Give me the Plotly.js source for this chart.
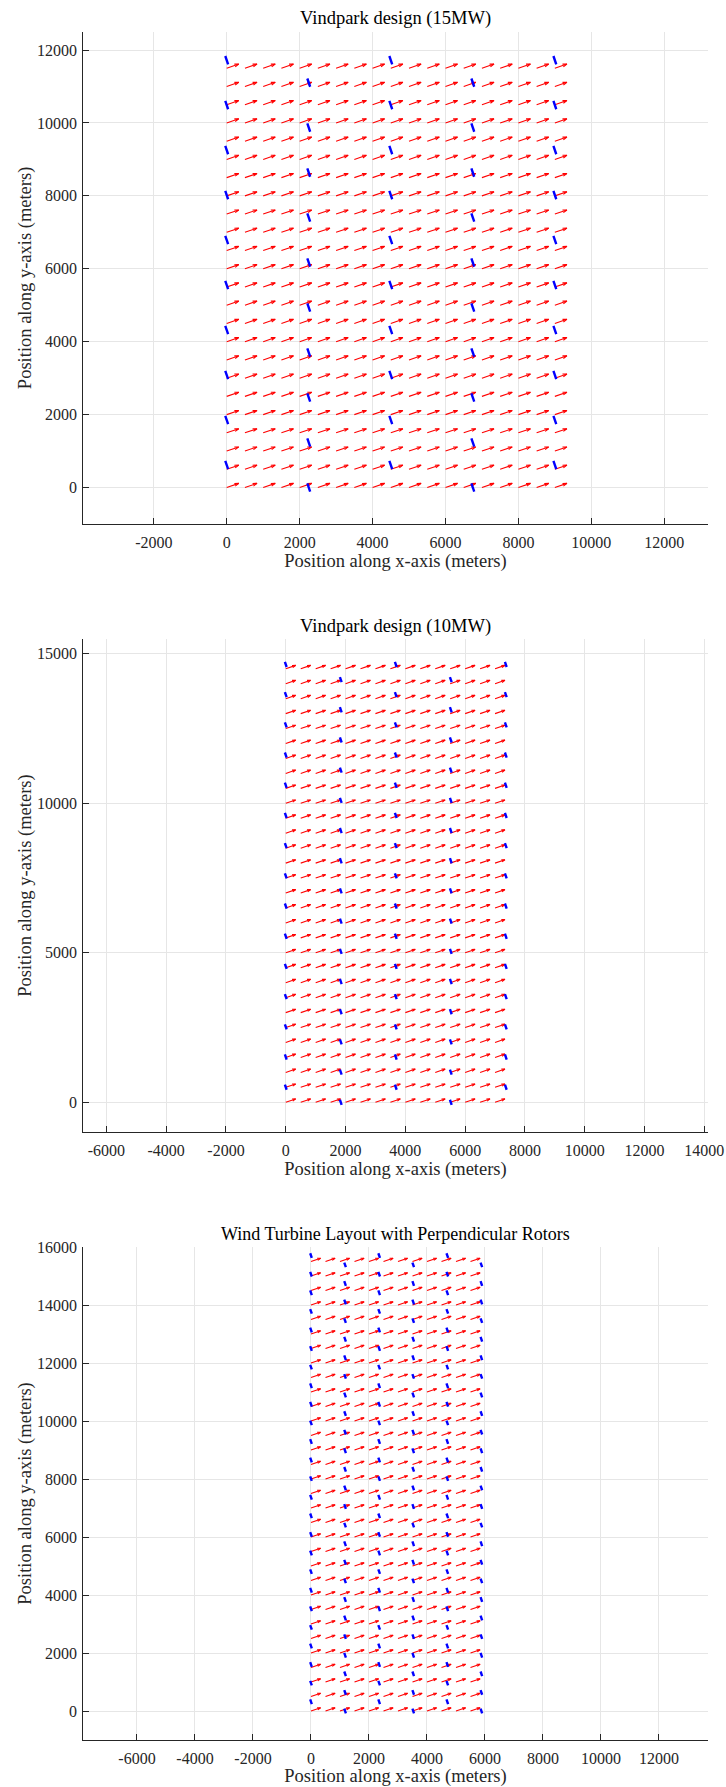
<!DOCTYPE html>
<html><head><meta charset="utf-8">
<script src="https://cdn.plot.ly/plotly-3.0.1.min.js"></script>
<style>html,body{margin:0;padding:0;background:#fff}</style>
</head><body><div id="chart" style="width:726px;height:1787px"></div>
<script>
// ---------- Plot 1: Vindpark design (15MW) ----------
const windX1 = [0,500,1000,1500,2000,2500,3000,3500,4000,4500,5000,5500,6000,6500,7000,7500,8000,8500,9000];
const windY1 = [0,500,1000,1500,2000,2500,3000,3500,4000,4500,5000,5500,6000,6500,7000,7500,8000,8500,9000,9500,10000,10500,11000,11500];
const turbColsA1 = [0,4500,9000];
const turbRowsA1 = [617,1851,3085,4319,5553,6787,8021,9255,10489,11723];
const turbColsB1 = [2250,6750];
const turbRowsB1 = [0,1234,2468,3702,4936,6170,7404,8638,9872,11106];
const xTicks1 = [-2000,0,2000,4000,6000,8000,10000,12000];
const xTickText1 = ['-2000','0','2000','4000','6000','8000','10000','12000'];
const yTicks1 = [0,2000,4000,6000,8000,10000,12000];
const yTickText1 = ['0','2000','4000','6000','8000','10000','12000'];

// ---------- Plot 2: Vindpark design (10MW) ----------
const windX2 = [0,500,1000,1500,2000,2500,3000,3500,4000,4500,5000,5500,6000,6500,7000];
const windY2 = [0,500,1000,1500,2000,2500,3000,3500,4000,4500,5000,5500,6000,6500,7000,7500,8000,8500,9000,9500,10000,10500,11000,11500,12000,12500,13000,13500,14000,14500];
const turbColsA2 = [0,3680,7360];
const turbRowsA2 = [505,1515,2525,3535,4545,5555,6565,7575,8585,9595,10605,11615,12625,13635,14645];
const turbColsB2 = [1840,5520];
const turbRowsB2 = [0,1010,2020,3030,4040,5050,6060,7070,8080,9090,10100,11110,12120,13130,14140];
const xTicks2 = [-6000,-4000,-2000,0,2000,4000,6000,8000,10000,12000,14000];
const xTickText2 = ['-6000','-4000','-2000','0','2000','4000','6000','8000','10000','12000','14000'];
const yTicks2 = [0,5000,10000,15000];
const yTickText2 = ['0','5000','10000','15000'];

// ---------- Plot 3: Wind Turbine Layout with Perpendicular Rotors ----------
const windX3 = [0,500,1000,1500,2000,2500,3000,3500,4000,4500,5000,5500];
const windY3 = [0,500,1000,1500,2000,2500,3000,3500,4000,4500,5000,5500,6000,6500,7000,7500,8000,8500,9000,9500,10000,10500,11000,11500,12000,12500,13000,13500,14000,14500,15000,15500];
const turbColsA3 = [0,2350,4700];
const turbRowsA3 = [320,961,1602,2243,2884,3525,4166,4807,5448,6089,6730,7371,8012,8653,9294,9935,10576,11217,11858,12499,13140,13781,14422,15063,15704];
const turbColsB3 = [1175,3525,5875];
const turbRowsB3 = [0,641,1282,1923,2564,3205,3846,4487,5128,5769,6410,7051,7692,8333,8974,9615,10256,10897,11538,12179,12820,13461,14102,14743,15384];
const xTicks3 = [-6000,-4000,-2000,0,2000,4000,6000,8000,10000,12000];
const xTickText3 = ['-6000','-4000','-2000','0','2000','4000','6000','8000','10000','12000'];
const yTicks3 = [0,2000,4000,6000,8000,10000,12000,14000,16000];
const yTickText3 = ['0','2000','4000','6000','8000','10000','12000','14000','16000'];

const titles = ['Vindpark design (15MW)','Vindpark design (10MW)','Wind Turbine Layout with Perpendicular Rotors'];
const xLabel = 'Position along x-axis (meters)';
const yLabel = 'Position along y-axis (meters)';

// wind direction and glyph sizes (meters)
const windAngleDeg = 19;
const arrowLen = 350;
const rotorD = [240, 180, 170];

const th = windAngleDeg*Math.PI/180;
const U = arrowLen*Math.cos(th), V = arrowLen*Math.sin(th);
const alpha = 0.33, beta = 0.33;

function arrowTrace(xs, ys, xa, ya){
  const X=[],Y=[];
  for (const y of ys) for (const x of xs){
    X.push(x, x+U, null); Y.push(y, y+V, null);
    X.push(x+U-alpha*(U+beta*V), x+U, x+U-alpha*(U-beta*V), null);
    Y.push(y+V-alpha*(V-beta*U), y+V, y+V-alpha*(V+beta*U), null);
  }
  return {type:'scatter', mode:'lines', x:X, y:Y, xaxis:xa, yaxis:ya,
    line:{color:'#ff0000', width:1.1}, hoverinfo:'skip', showlegend:false};
}
function rotorTrace(cols, rows, D, xa, ya){
  const X=[],Y=[];
  const sx = D/2*Math.sin(th), sy = D/2*Math.cos(th);
  for (const x of cols) for (const y of rows){
    X.push(x-sx, x+sx, null); Y.push(y+sy, y-sy, null);
  }
  return {type:'scatter', mode:'lines', x:X, y:Y, xaxis:xa, yaxis:ya,
    line:{color:'#0000ff', width:2.4}, hoverinfo:'skip', showlegend:false};
}

const data = [
  arrowTrace(windX1, windY1, 'x', 'y'),
  rotorTrace(turbColsA1, turbRowsA1, rotorD[0], 'x', 'y'),
  rotorTrace(turbColsB1, turbRowsB1, rotorD[0], 'x', 'y'),
  arrowTrace(windX2, windY2, 'x2', 'y2'),
  rotorTrace(turbColsA2, turbRowsA2, rotorD[1], 'x2', 'y2'),
  rotorTrace(turbColsB2, turbRowsB2, rotorD[1], 'x2', 'y2'),
  arrowTrace(windX3, windY3, 'x3', 'y3'),
  rotorTrace(turbColsA3, turbRowsA3, rotorD[2], 'x3', 'y3'),
  rotorTrace(turbColsB3, turbRowsB3, rotorD[2], 'x3', 'y3')
];

const W=726, H=1787;
const FONT = '"Liberation Serif", "Times New Roman", serif';
const INK = '#262626';
const xd = [83.2/W, 707.8/W];
function yd(topPx, botPx){ return [1-botPx/H, 1-topPx/H]; }

function axisBase(tv, tt, range, domain, anchor, isX){
  return {
    domain, range, anchor, autorange:false, fixedrange:true,
    tickmode:'array', tickvals:tv, ticktext:tt,
    showline:true, linecolor:INK, linewidth:1, mirror:false,
    ticks:'inside', ticklen:6, tickwidth:1, tickcolor:INK,
    showgrid:true, gridcolor:'#e6e6e6', gridwidth:1, zeroline:false,
    tickfont:{family:FONT, size:16, color:INK},
    ticklabelstandoff: isX ? 4 : 2,
    title:{text: isX ? xLabel : yLabel, font:{family:FONT, size:18.5, color:INK}, standoff: isX ? 3 : 0}
  };
}

const layout = {
  width:W, height:H, margin:{l:0,r:0,t:0,b:0},
  paper_bgcolor:'#ffffff', plot_bgcolor:'#ffffff', showlegend:false,
  xaxis:  axisBase(xTicks1, xTickText1, [-3936,13195], xd, 'y', true),
  yaxis:  axisBase(yTicks1, yTickText1, [-1000,12500], yd(31.8,524), 'x', false),
  xaxis2: axisBase(xTicks2, xTickText2, [-6776,14117], xd, 'y2', true),
  yaxis2: axisBase(yTicks2, yTickText2, [-1000,15500], yd(638.9,1132.2), 'x2', false),
  xaxis3: axisBase(xTicks3, xTickText3, [-7855,13683], xd, 'y3', true),
  yaxis3: axisBase(yTicks3, yTickText3, [-1000,16000], yd(1247,1740), 'x3', false),
  annotations: [
    {text:titles[0], xref:'paper', yref:'paper', x:(xd[0]+xd[1])/2, y:1-18/H, xanchor:'center', yanchor:'middle', showarrow:false, font:{family:FONT, size:18.5, color:'#000'}},
    {text:titles[1], xref:'paper', yref:'paper', x:(xd[0]+xd[1])/2, y:1-626.5/H, xanchor:'center', yanchor:'middle', showarrow:false, font:{family:FONT, size:18.5, color:'#000'}},
    {text:titles[2], xref:'paper', yref:'paper', x:(xd[0]+xd[1])/2, y:1-1234/H, xanchor:'center', yanchor:'middle', showarrow:false, font:{family:FONT, size:18, color:'#000'}}
  ]
};

Plotly.newPlot('chart', data, layout, {staticPlot:true, displayModeBar:false});
</script></body></html>
